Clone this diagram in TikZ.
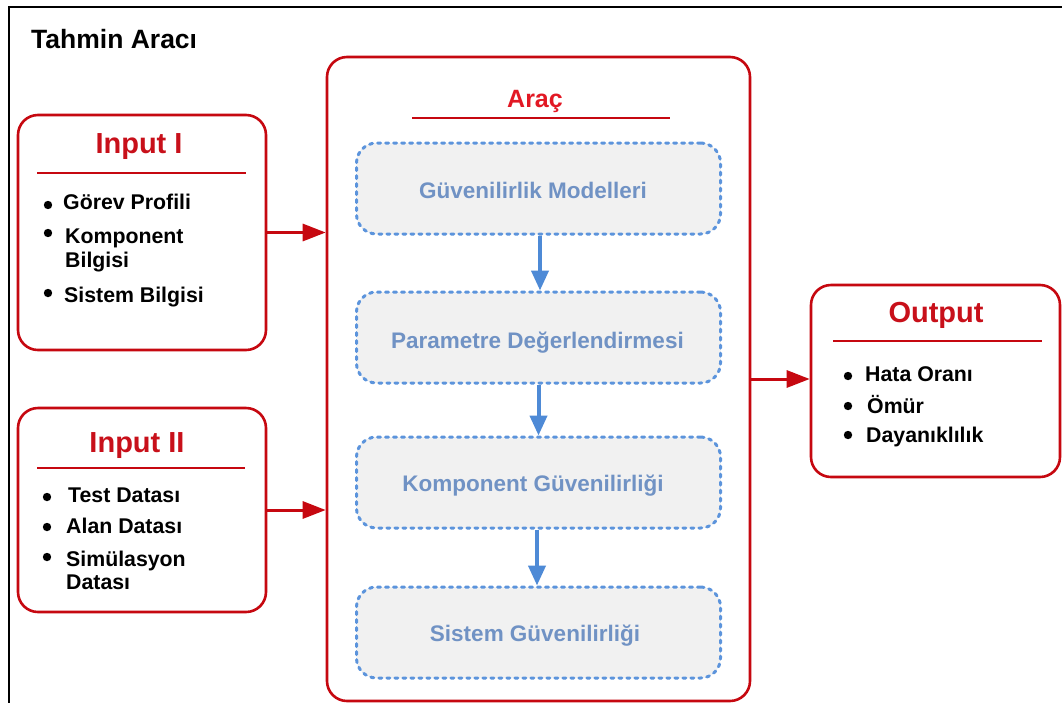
\documentclass[tikz,border=0pt]{standalone}
\usepackage{fontspec}
\setmainfont{Liberation Sans}
\usetikzlibrary{arrows.meta}

\definecolor{boxred}{RGB}{198,8,16}
\definecolor{titlered}{RGB}{200,16,26}
\definecolor{toolred}{RGB}{226,24,36}
\definecolor{dashblue}{RGB}{92,148,220}
\definecolor{stagefill}{RGB}{241,241,241}
\definecolor{stagetext}{RGB}{112,146,196}
\definecolor{flowblue}{RGB}{78,138,214}

\begin{document}
\begin{tikzpicture}[x=1pt,y=-1pt,
  redbox/.style={draw=boxred, line width=2.6pt, rounded corners=20pt, fill=white,
                 rectangle, inner sep=0pt},
  stagebox/.style={draw=dashblue, fill=stagefill, line width=3pt,
                   dash pattern=on 3pt off 5pt, line cap=round,
                   rounded corners=20pt, minimum width=364pt, minimum height=91pt,
                   inner sep=0pt},
  stagelabel/.style={anchor=base, text=stagetext,
                     font=\fontsize{22.5}{24}\selectfont\bfseries},
  boxtitle/.style={anchor=base, text=titlered,
                   font=\fontsize{29}{31}\selectfont\bfseries},
  rule/.style={draw=boxred, line width=2.6pt},
  item/.style={anchor=base west, inner sep=0pt,
               font=\fontsize{21.3}{23}\selectfont\bfseries},
  dot/.style={fill=black},
  feed/.style={draw=boxred, line width=3pt,
               -{Triangle[length=23pt,width=17pt]}},
  flow/.style={draw=flowblue, line width=4pt,
               -{Triangle[length=20pt,width=17pt]}},
]
\useasboundingbox (0,0) rectangle (1062,702);
\clip (0,0) rectangle (1062,702);
\fill[white] (0,0) rectangle (1062,702);

% outer frame, open to the right and at the bottom
\draw[black, line width=2pt] (9,720) -- (9,7) -- (1080,7);
\node[anchor=base west, inner sep=0pt, font=\fontsize{26.5}{28}\selectfont\bfseries]
  (frametitle) at (31,48) {Tahmin Aracı};

% ---------- input boxes ----------
\node[redbox, minimum width=248pt, minimum height=235pt] (in1) at (142,232.5) {};
\node[boxtitle] (in1title) at (139,153) {Input I};
\draw[rule] (37,173) -- (246,173);
\fill[dot] (48,205) circle (4.2);
\node[item] (in1a) at (63,209) {Görev Profili};
\fill[dot] (48,233) circle (4.2);
\node[item] (in1b) at (65,243) {Komponent};
\node[item] (in1c) at (65,267) {Bilgisi};
\fill[dot] (48,293) circle (4.2);
\node[item] (in1d) at (64,302) {Sistem Bilgisi};

\node[redbox, minimum width=248pt, minimum height=204pt] (in2) at (142,510) {};
\node[boxtitle] (in2title) at (137,452) {Input II};
\draw[rule] (37,468) -- (245,468);
\fill[dot] (47,497) circle (4.2);
\node[item] (in2a) at (68,502) {Test Datası};
\fill[dot] (47,527) circle (4.2);
\node[item] (in2b) at (66,533) {Alan Datası};
\fill[dot] (47,557) circle (4.2);
\node[item] (in2c) at (66,566) {Simülasyon};
\node[item] (in2d) at (66,589) {Datası};

% ---------- tool box ----------
\node[redbox, minimum width=423pt, minimum height=644pt] (tool) at (538.5,379) {};
\node[anchor=base, text=toolred, font=\fontsize{25}{27}\selectfont\bfseries]
  (tooltitle) at (535,107) {Araç};
\draw[rule] (412,118) -- (670,118);

\node[stagebox] (s1) at (538.5,188.5) {};
\node[stagebox] (s2) at (538.5,337.5) {};
\node[stagebox] (s3) at (538.5,482.5) {};
\node[stagebox] (s4) at (538.5,632.5) {};
\node[stagelabel] (s1t) at (533,198) {Güvenilirlik Modelleri};
\node[stagelabel] (s2t) at (537.5,348) {Parametre Değerlendirmesi};
\node[stagelabel] (s3t) at (533,491) {Komponent Güvenilirliği};
\node[stagelabel] (s4t) at (535,641) {Sistem Güvenilirliği};

\draw[flow] ([xshift=1.5pt]s1.south) -- ([xshift=1.5pt]s2.north);
\draw[flow] (s2.south) -- (s3.north);
\draw[flow] ([xshift=-1.5pt]s3.south) -- ([xshift=-1.5pt]s4.north);

% ---------- output box ----------
\node[redbox, minimum width=249pt, minimum height=192pt] (out) at (935.5,381) {};
\node[boxtitle] (outtitle) at (936,322) {Output};
\draw[rule] (833,341) -- (1042,341);
\fill[dot] (848,376) circle (4.2);
\node[item] (outa) at (865,381) {Hata Oranı};
\fill[dot] (848,406) circle (4.2);
\node[item] (outb) at (867,413) {Ömür};
\fill[dot] (848,435) circle (4.2);
\node[item] (outc) at (866,442) {Dayanıklılık};

% ---------- connectors ----------
\draw[feed] (in1.east) -- (in1.east -| tool.west);
\draw[feed] (in2.east) -- (in2.east -| tool.west);
\draw[feed] (tool.east) -- (tool.east -| out.west);
\end{tikzpicture}
\end{document}
